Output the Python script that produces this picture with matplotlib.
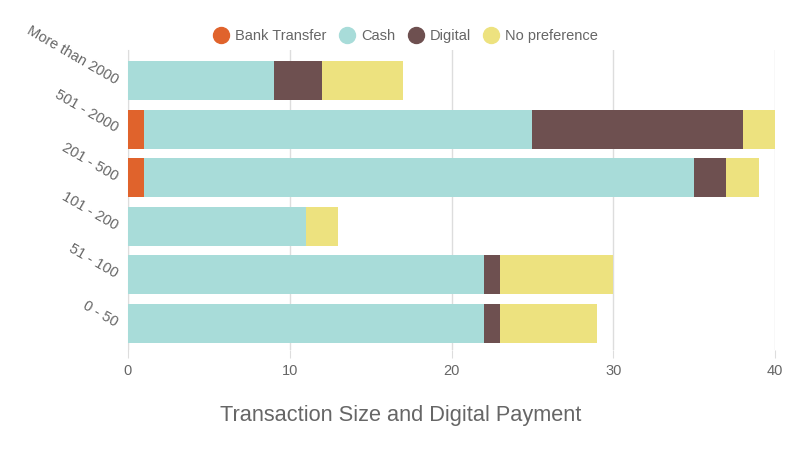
import matplotlib
matplotlib.use("Agg")
import matplotlib.pyplot as plt
import numpy as np
from matplotlib.lines import Line2D

categories = ["0 - 50", "51 - 100", "101 - 200", "201 - 500", "501 - 2000", "More than 2000"]
bank_transfer = [0, 0, 0, 1, 1, 0]
cash = [22, 22, 11, 34, 24, 9]
digital = [1, 1, 0, 2, 13, 3]
no_preference = [6, 7, 2, 2, 2, 5]
series_names = ["Bank Transfer", "Cash", "Digital", "No preference"]
colors = ["#e0632c", "#a8dcd9", "#6e5050", "#ede27f"]
x_ticks = [0, 10, 20, 30, 40]

plt.rcParams['font.family'] = ['Liberation Sans', 'DejaVu Sans']
fig = plt.figure(figsize=(8, 4.5), dpi=100)
ax = fig.add_axes([128/800, 1-350/450, (775-128)/800, 300/450])

y = np.arange(len(categories))
left = np.zeros(len(categories))
for vals, col in zip([bank_transfer, cash, digital, no_preference], colors):
    ax.barh(y, vals, left=left, height=0.8, color=col, zorder=3, linewidth=0)
    left += np.array(vals)

ax.set_xlim(0, 40)
ax.set_ylim(-0.553, 5.633)
ax.set_xticks(x_ticks)
ax.set_xticklabels([str(t) for t in x_ticks], color="#666666", fontsize=10.5)
ax.set_yticks(y)
ax.set_yticklabels(categories, rotation=-30, ha="right", va="center", rotation_mode="anchor",
                   color="#666666", fontsize=10.5)
ax.tick_params(axis="x", length=6, color="#dddddd", pad=4)
ax.tick_params(axis="y", length=0, pad=8)
ax.xaxis.grid(True, color="#dddddd", linewidth=1, zorder=0)
for s in ["top", "right", "bottom"]:
    ax.spines[s].set_visible(False)
ax.spines["left"].set_color("#dddddd")

handles = [Line2D([0], [0], marker="o", linestyle="", markersize=11.5, markerfacecolor=c,
                  markeredgecolor=c) for c in colors]
fig.legend(handles, series_names, loc="center", bbox_to_anchor=(406/800, 1-36/450), ncol=4,
           frameon=False, fontsize=10.5, labelcolor="#666666", handletextpad=0.45,
           columnspacing=0.9, handlelength=1.0)

fig.text(401/800, 1-416/450, "Transaction Size and Digital Payment", ha="center", va="center",
         fontsize=15.7, color="#666666")

fig.savefig("out.png", dpi=100)
